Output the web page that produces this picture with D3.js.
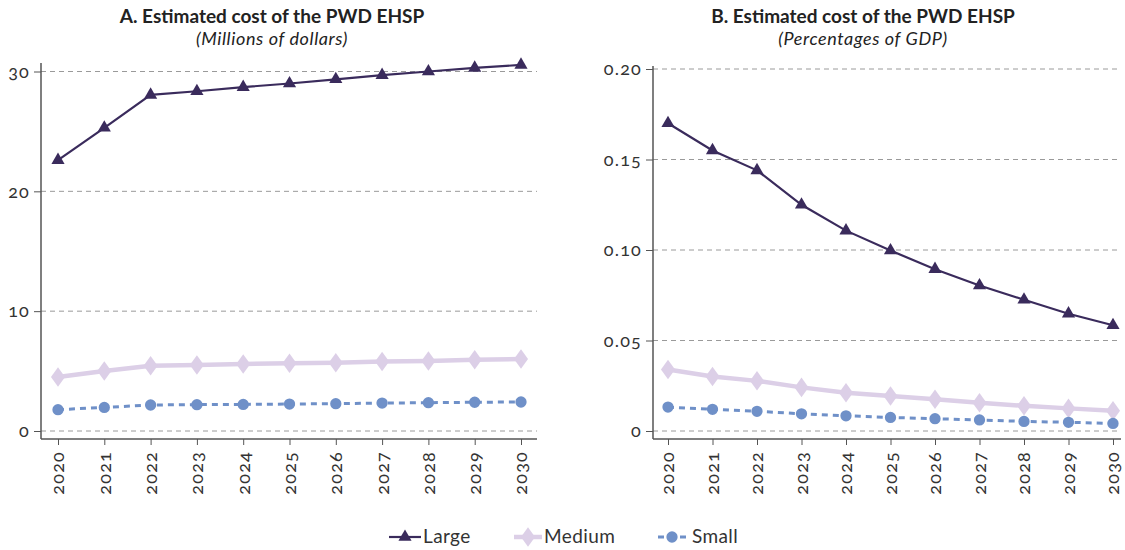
<!DOCTYPE html>
<html><head><meta charset="utf-8">
<script src="https://cdn.jsdelivr.net/npm/d3@7"></script>
<style>body{margin:0;background:#fff;} svg{display:block;font-family:Lato,"Open Sans",sans-serif;}
.tk text{font-variant-numeric:oldstyle-nums;font-feature-settings:"onum" 1;}</style>
</head><body>
<svg id="chart" width="1125" height="550"></svg>
<script>
const years = [2020,2021,2022,2023,2024,2025,2026,2027,2028,2029,2030];
const seriesNames = ["Large","Medium","Small"];
const usdLarge  = [22.6,25.3,28.05,28.35,28.7,29.0,29.35,29.7,30.0,30.3,30.55];
const usdMedium = [4.5,5.0,5.45,5.5,5.6,5.65,5.7,5.8,5.85,5.95,6.0];
const usdSmall  = [1.78,1.97,2.17,2.2,2.22,2.25,2.28,2.33,2.36,2.4,2.42];
const gdpLarge  = [0.170,0.155,0.144,0.125,0.1107,0.0997,0.0894,0.0804,0.0725,0.0648,0.0584];
const gdpMedium = [0.034,0.0301,0.0277,0.0241,0.0211,0.0193,0.0175,0.0156,0.0139,0.0125,0.0112];
const gdpSmall  = [0.0132,0.0120,0.0109,0.0095,0.0084,0.0075,0.0068,0.0061,0.0053,0.0048,0.0042];
const usdTicks = [0,10,20,30];
const gdpTicks = [0,0.05,0.10,0.15,0.20];
const gdpTickLabels = ["0","0.05","0.10","0.15","0.20"];

const colors = {Large:"#3a2b5c", Medium:"#dccfe7", Small:"#6f90c8"};
const svg = d3.select("#chart");
const symType = n => n==="Large"?d3.symbolTriangle:(n==="Medium"?d3.symbolDiamond:d3.symbolCircle);
const symSize = n => n==="Large"?75:(n==="Medium"?110:100);

function panel(cfg){
  const g = svg.append("g");
  const x = d3.scalePoint().domain(years).range([cfg.x0, cfg.x1]);
  const y = d3.scaleLinear().domain(cfg.domain).range([431, cfg.yTop]);
  g.append("text").attr("x",cfg.cx).attr("y",23).attr("text-anchor","middle")
    .attr("font-size",19).attr("font-weight","bold").attr("fill","#222").text(cfg.title);
  g.append("text").attr("x",cfg.cx).attr("y",45).attr("text-anchor","middle")
    .attr("font-size",18).attr("font-style","italic").attr("letter-spacing",0.6).attr("fill","#222").text(cfg.sub);
  g.selectAll(".grid").data(cfg.ticks).enter().append("line")
    .attr("x1",cfg.axisX).attr("x2",cfg.gridEnd)
    .attr("y1",d=>y(d)).attr("y2",d=>y(d))
    .attr("stroke","#9a9a9a").attr("stroke-width",1).attr("stroke-dasharray","5,4");
  const yAxis = d3.axisLeft(y).tickValues(cfg.ticks).tickSize(7).tickPadding(4)
    .tickFormat((d,i)=>cfg.tickLabels[i]);
  const ya = g.append("g").attr("class","tk").attr("transform",`translate(${cfg.axisX},0)`).call(yAxis);
  ya.select(".domain").remove();
  ya.append("line").attr("x1",0).attr("x2",0).attr("y1",cfg.axisTop).attr("y2",439)
    .attr("stroke","#555").attr("stroke-width",1.5);
  ya.selectAll(".tick line").attr("stroke","#555");
  ya.selectAll(".tick text").attr("font-size",18).attr("letter-spacing",1.2).attr("fill","#333")
    .attr("font-family","Lato,'Open Sans',sans-serif");
  const xAxis = d3.axisBottom(x).tickSize(6).tickPadding(4);
  const xa = g.append("g").attr("class","tk").attr("transform","translate(0,439)").call(xAxis);
  xa.select(".domain").remove();
  xa.append("line").attr("x1",cfg.axisX).attr("x2",cfg.gridEnd).attr("y1",0).attr("y2",0)
    .attr("stroke","#555").attr("stroke-width",1.5);
  xa.selectAll(".tick line").attr("stroke","#555");
  xa.selectAll(".tick text").attr("font-size",18).attr("letter-spacing",1.2).attr("fill","#333")
    .attr("font-family","Lato,'Open Sans',sans-serif")
    .attr("transform","rotate(-90)").attr("text-anchor","end")
    .attr("x",-12).attr("y",0).attr("dy","0.33em");
  const data = {Large:cfg.large, Medium:cfg.medium, Small:cfg.small};
  const line = d3.line().x((d,i)=>x(years[i])).y(d=>y(d));
  ["Medium","Small","Large"].forEach(name=>{
    const vals = data[name];
    const p = g.append("path").attr("d",line(vals)).attr("fill","none").attr("stroke",colors[name]);
    if(name==="Large") p.attr("stroke-width",2.2);
    if(name==="Medium") p.attr("stroke-width",4.5);
    if(name==="Small") p.attr("stroke-width",3).attr("stroke-dasharray","6,5");
    g.selectAll(".m"+name).data(vals).enter().append("path")
      .attr("d",d3.symbol().type(symType(name)).size(symSize(name)))
      .attr("transform",(d,i)=>`translate(${x(years[i])},${y(d)})${name==="Medium"?" scale(1.25,1)":""}`)
      .attr("fill",colors[name]);
  });
}

panel({x0:58,x1:521,axisX:41,gridEnd:537,domain:[0,30],yTop:71.5,axisTop:63,ticks:usdTicks,
  tickLabels:usdTicks.map(String),cx:272,title:"A. Estimated cost of the PWD EHSP",sub:"(Millions of dollars)",
  large:usdLarge,medium:usdMedium,small:usdSmall});
panel({x0:668,x1:1113,axisX:653,gridEnd:1121,domain:[0,0.2],yTop:69,axisTop:66,ticks:gdpTicks,
  tickLabels:gdpTickLabels,cx:863,title:"B. Estimated cost of the PWD EHSP",sub:"(Percentages of GDP)",
  large:gdpLarge,medium:gdpMedium,small:gdpSmall});

// legend
const legendLine = {Large:[389,421], Medium:[514,542], Small:[658,686]};
const legendText = {Large:423, Medium:544, Small:692};
const lg = svg.append("g");
seriesNames.forEach(name=>{
  const [a,b] = legendLine[name];
  const l = lg.append("line").attr("x1",a).attr("x2",b).attr("y1",537).attr("y2",537).attr("stroke",colors[name]);
  if(name==="Large") l.attr("stroke-width",2.2);
  if(name==="Medium") l.attr("stroke-width",4.5);
  if(name==="Small") l.attr("stroke-width",3).attr("stroke-dasharray","6,5");
  lg.append("path").attr("d",d3.symbol().type(symType(name)).size(symSize(name)))
    .attr("transform",`translate(${(a+b)/2},537)${name==="Medium"?" scale(1.25,1)":""}`).attr("fill",colors[name]);
  lg.append("text").attr("x",legendText[name]).attr("y",543).attr("font-size",19).attr("letter-spacing",0.4)
    .attr("fill","#333").text(name);
});
</script>
</body></html>
